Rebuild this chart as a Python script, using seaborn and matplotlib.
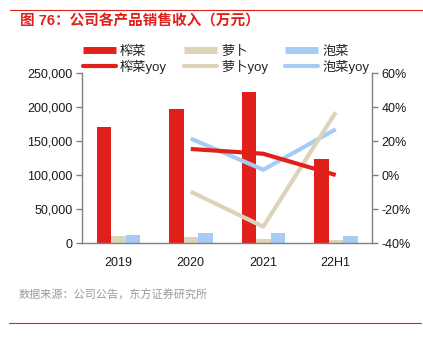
import matplotlib
matplotlib.use("Agg")
import matplotlib.pyplot as plt
import seaborn as sns
import pandas as pd
from matplotlib.lines import Line2D
from matplotlib.ticker import FuncFormatter

categories = ["2019", "2020", "2021", "22H1"]
zhacai = [171000, 197000, 222000, 123000]
luobo = [10300, 8800, 6000, 4500]
paocai = [12200, 14700, 15200, 10300]
yoy_cats = ["2020", "2021", "22H1"]
zhacai_yoy = [15.3, 12.5, 0.0]
luobo_yoy = [-9.8, -30.4, 36.9]
paocai_yoy = [21.4, 3.1, 26.9]

series_names = ["榨菜", "萝卜", "泡菜"]
colors = ["#E2201B", "#DDD3B8", "#A6CBF5"]

sns.set_theme(style="white")
plt.rcParams['font.family'] = ['Liberation Sans', 'Noto Sans CJK SC', 'DejaVu Sans']

df = pd.DataFrame({
    "cat": categories * 3,
    "val": zhacai + luobo + paocai,
    "s": [series_names[0]] * 4 + [series_names[1]] * 4 + [series_names[2]] * 4,
})

fig = plt.figure(figsize=(4.23, 3.43), dpi=100)
ax = fig.add_axes([82/423, 1-243/343, 290/423, 170/343])
sns.barplot(data=df, x="cat", y="val", hue="s", palette=colors, ax=ax,
            width=0.6, legend=False, saturation=1, linewidth=0)
ax.set_ylim(0, 250000)
ax.set_xlim(-0.5, 3.5)
ax.set_yticks([0, 50000, 100000, 150000, 200000, 250000])
ax.yaxis.set_major_formatter(FuncFormatter(lambda v, p: f"{int(v):,}"))
ax.set_xlabel("")
ax.set_ylabel("")

ax2 = ax.twinx()
pos = {c: i for i, c in enumerate(categories)}
xs = [pos[c] for c in yoy_cats]
ydf = pd.DataFrame({
    "x": xs * 3,
    "y": zhacai_yoy + luobo_yoy + paocai_yoy,
    "s": ["榨菜yoy"] * 3 + ["萝卜yoy"] * 3 + ["泡菜yoy"] * 3,
})
for name, col in zip(["泡菜yoy", "萝卜yoy", "榨菜yoy"], [colors[2], colors[1], colors[0]]):
    sub = ydf[ydf.s == name]
    sns.lineplot(data=sub, x="x", y="y", color=col, lw=3, ax=ax2, legend=False,
                 solid_capstyle="butt")
ax2.set_ylim(-40, 60)
ax2.set_yticks([-40, -20, 0, 20, 40, 60])
ax2.yaxis.set_major_formatter(FuncFormatter(lambda v, p: f"{int(v)}%"))
ax2.set_xlim(-0.5, 3.5)
ax2.set_xlabel("")
ax2.set_ylabel("")

for a in (ax, ax2):
    for s in a.spines.values():
        s.set_visible(False)
ax.spines["left"].set_visible(True)
ax.spines["bottom"].set_visible(True)
ax2.spines["right"].set_visible(True)
for sp in [ax.spines["left"], ax.spines["bottom"], ax2.spines["right"]]:
    sp.set_color("#808080")
    sp.set_linewidth(1)

ax.tick_params(axis="y", which="both", left=True, length=4, width=1, color="#808080",
               labelsize=9, pad=3, labelcolor="#1a1a1a")
ax.tick_params(axis="x", bottom=False, labelsize=9, pad=4, labelcolor="#1a1a1a")
ax2.tick_params(axis="y", right=True, length=4, width=1, color="#808080",
                labelsize=9, pad=3, labelcolor="#1a1a1a")
ax.grid(False)
ax2.grid(False)

handles = [
    Line2D([], [], color=colors[0], lw=5, solid_capstyle="butt"),
    Line2D([], [], color=colors[0], lw=3, solid_capstyle="round"),
    Line2D([], [], color=colors[1], lw=5, solid_capstyle="butt"),
    Line2D([], [], color=colors[1], lw=3, solid_capstyle="round"),
    Line2D([], [], color=colors[2], lw=5, solid_capstyle="butt"),
    Line2D([], [], color=colors[2], lw=3, solid_capstyle="round"),
]
labels = ["榨菜", "榨菜yoy", "萝卜", "萝卜yoy", "泡菜", "泡菜yoy"]
fig.legend(handles, labels, ncol=3, loc="center", bbox_to_anchor=(226/423, 1-59.5/343),
           frameon=False, fontsize=9.5, handlelength=2.5, handletextpad=0.3,
           columnspacing=1.3, labelspacing=0.15, borderpad=0)

fig.text(20/423, 1-21/343, "图 76：公司各产品销售收入（万元）", color="#E2201B",
         fontsize=10.5, fontweight="bold", va="center", ha="left")
fig.add_artist(Line2D([10/423, 1.0], [1-10/343, 1-10/343], color="#E2201B", lw=0.8))
fig.text(19/423, 1-295/343, "数据来源：公司公告，东方证券研究所", color="#9a9a9a",
         fontsize=8, va="center", ha="left")
fig.add_artist(Line2D([9/423, 421/423], [1-323/343, 1-323/343], color="#E2201B", lw=0.8))

fig.savefig("out.png", dpi=100)
